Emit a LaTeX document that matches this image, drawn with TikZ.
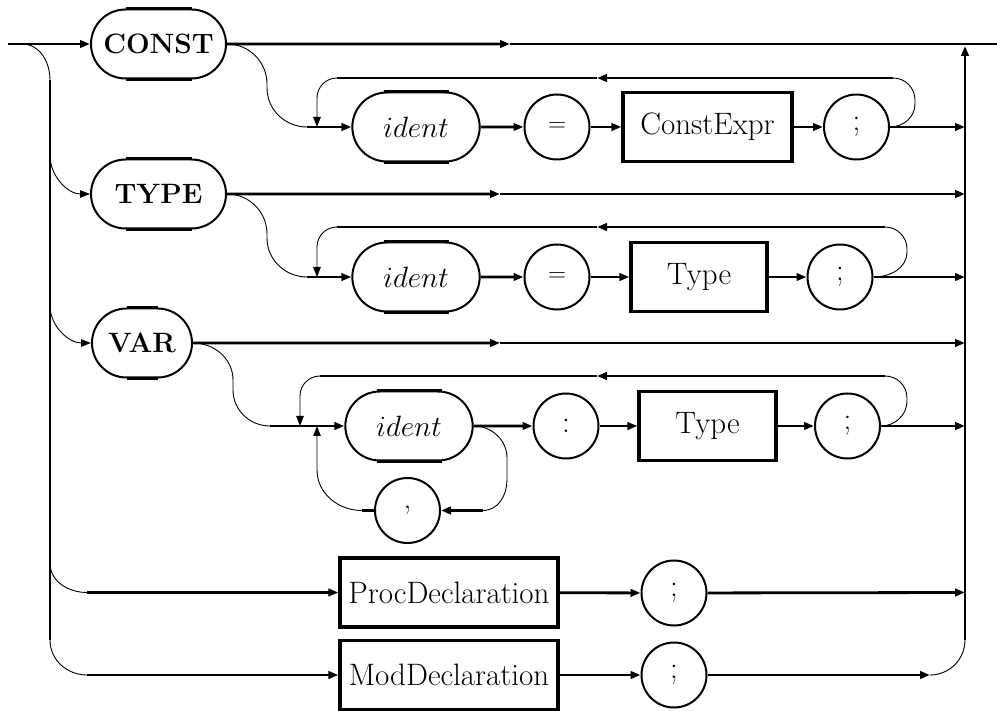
\documentclass[tikz,border=0pt]{standalone}
\usetikzlibrary{arrows.meta,shapes.misc,calc}
\newcommand{\identword}{\fontsize{24.88}{30}\selectfont\scalebox{1.18}{$ident$}}
\begin{document}
\begin{tikzpicture}[x=1pt,y=-1pt,
  mainline/.style={line width=2.8pt},
  bendline/.style={line width=0.9pt},
  tip/.style={-{Triangle[length=10pt,width=7.5pt]}},
  kw/.style={rounded rectangle, draw, line width=2pt, minimum height=69pt,
    inner xsep=0pt, font=\fontsize{28}{32}\selectfont\bfseries},
  idf/.style={rounded rectangle, draw, line width=2pt, minimum height=69pt,
    minimum width=134pt},
  sym/.style={circle, draw, line width=2pt, minimum size=65pt, inner sep=0pt,
    font=\fontsize{31}{36}\selectfont},
  nt/.style={rectangle, draw, line width=3.2pt, minimum height=69pt, inner sep=0pt,
    font=\fontsize{31}{36}\selectfont},
  flat/.style={line width=3.4pt},
]
\useasboundingbox (0,0) rectangle (997,711);

% ---- nodes ----
\node[kw, minimum width=135pt] (const) at (158.5,44) {CONST};
\node[idf] (id1) at (416,127) {\identword};
\node[sym] (eq1) at (557,127) {$=$};
\node[nt, minimum width=169pt] (cexpr) at (707.5,127) {ConstExpr};
\node[sym] (sc1) at (856.5,127) {;};

\node[kw, minimum width=135pt] (type) at (158.5,194) {TYPE};
\node[idf] (id2) at (416,277) {\identword};
\node[sym] (eq2) at (557,277) {$=$};
\node[nt, minimum width=136pt] (ty1) at (699,277) {Type};
\node[sym] (sc2) at (840,277) {;};

\node[kw, minimum width=100pt] (var) at (142,343) {VAR};
\node[idf] (id3) at (409,426) {\identword};
\node[sym] (col) at (566,426) {:};
\node[nt, minimum width=137pt] (ty2) at (707.5,426) {Type};
\node[sym] (sc3) at (847.5,426) {;};
\node[sym] (com) at (407.5,510.5) {,};

\node[nt, minimum width=218pt] (proc) at (449,592.5) {ProcDeclaration};
\node[sym] (sc4) at (674,593) {;};
\node[nt, minimum width=218pt] (mod) at (449,675) {ModDeclaration};
\node[sym] (sc5) at (674,675) {;};

% heavier straight edges of the rounded nodes
\foreach \n/\h in {const/33, type/33, var/15.5, id1/32.5, id2/32.5, id3/32.5} {
  \draw[flat] ($(\n.north)+(-\h,0)$) -- ($(\n.north)+(\h,0)$);
  \draw[flat] ($(\n.south)+(-\h,0)$) -- ($(\n.south)+(\h,0)$);
}

% ---- junction points ----
\coordinate (start) at (8,44);
\coordinate (lsplit) at (22,44);
\coordinate (endpt) at (997,44);
\coordinate (m0) at (510,44);
\coordinate (lbtop) at (50,80);
\coordinate (lt) at (50,155);
\coordinate (lv) at (50,305);
\coordinate (lp) at (50,563);
\coordinate (lbbot) at (50,640);
\coordinate (pin) at (87,592.5);
\coordinate (min) at (87,675);
\coordinate (rbtop) at (965,46);
\coordinate (rbbot) at (965,640);
\coordinate (r1) at (965,127);
\coordinate (r2) at (965,194);
\coordinate (r3) at (965,277);
\coordinate (r4) at (965,343);
\coordinate (r5) at (965,426);
\coordinate (r6) at (965,592.5);
\coordinate (mend) at (930,675);
\coordinate (m2) at (500,194);
\coordinate (m4) at (500,343);

\coordinate (in1) at (307,127);
\coordinate (j1) at (317,127);
\coordinate (lr1) at (893,78);
\coordinate (lm1) at (597,78);
\coordinate (ll1) at (337,78);

\coordinate (in2) at (307,277);
\coordinate (j2) at (317,277);
\coordinate (lr2) at (885,227);
\coordinate (lm2) at (597,227);
\coordinate (ll2) at (337,227);

\coordinate (in3) at (270,426);
\coordinate (j3) at (300,426);
\coordinate (j4) at (317,426);
\coordinate (lr3) at (885,376);
\coordinate (lm3) at (597,376);
\coordinate (ll3) at (320,376);
\coordinate (cr) at (483,510.5);
\coordinate (cl) at (362,510.5);

% ---- buses and the top line ----
\draw[mainline,tip] (start) -- (const);
\draw[mainline,tip] (const) -- (m0);
\draw[mainline] (m0) -- (endpt);
\draw[bendline] (lsplit) to[out=0,in=90] (lbtop);
\draw[mainline] (lbtop) -- (lbbot);
\draw[mainline,tip] (rbbot) -- (rbtop);

% ---- CONST declarations ----
\draw[bendline] (const.east) to[out=0,in=90] (267,84) -- (267,88) to[out=-90,in=180] (in1);
\draw[mainline,tip] (in1) -- (id1);
\draw[mainline,tip] (id1) -- (eq1);
\draw[mainline,tip] (eq1) -- (cexpr);
\draw[mainline,tip] (cexpr) -- (sc1);
\draw[mainline,tip] (sc1) -- (r1);
\draw[bendline] (sc1.east) to[out=0,in=-90] (915,104) -- (915,100) to[out=90,in=0] (lr1);
\draw[mainline,tip] (lr1) -- (lm1);
\draw[mainline] (lm1) -- (ll1);
\draw[bendline,tip] (ll1) to[out=180,in=90] (317,98) -- (j1);

% ---- TYPE declarations ----
\draw[bendline,tip] (lt) to[out=-90,in=180] (type.west);
\draw[mainline,tip] (type) -- (m2);
\draw[mainline,tip] (m2) -- (r2);
\draw[bendline] (type.east) to[out=0,in=90] (267,234) -- (267,238) to[out=-90,in=180] (in2);
\draw[mainline,tip] (in2) -- (id2);
\draw[mainline,tip] (id2) -- (eq2);
\draw[mainline,tip] (eq2) -- (ty1);
\draw[mainline,tip] (ty1) -- (sc2);
\draw[mainline,tip] (sc2) -- (r3);
\draw[bendline] (sc2.east) to[out=0,in=-90] (907,252) -- (907,249) to[out=90,in=0] (lr2);
\draw[mainline,tip] (lr2) -- (lm2);
\draw[mainline] (lm2) -- (ll2);
\draw[bendline,tip] (ll2) to[out=180,in=90] (317,247) -- (j2);

% ---- VAR declarations ----
\draw[bendline,tip] (lv) to[out=-90,in=180] (var.west);
\draw[mainline,tip] (var) -- (m4);
\draw[mainline,tip] (m4) -- (r4);
\draw[bendline] (var.east) to[out=0,in=90] (233,380) -- (233,390) to[out=-90,in=180] (in3);
\draw[mainline,tip] (in3) -- (id3);
\draw[mainline,tip] (id3) -- (col);
\draw[mainline,tip] (col) -- (ty2);
\draw[mainline,tip] (ty2) -- (sc3);
\draw[mainline,tip] (sc3) -- (r5);
\draw[bendline] (sc3.east) to[out=0,in=-90] (907,401) -- (907,398) to[out=90,in=0] (lr3);
\draw[mainline,tip] (lr3) -- (lm3);
\draw[mainline] (lm3) -- (ll3);
\draw[bendline,tip] (ll3) to[out=180,in=90] (300,396) -- (j3);
% identifier list separated by commas
\draw[bendline] (id3.east) to[out=0,in=90] (507,458) -- (507,480) to[out=-90,in=0] (cr);
\draw[mainline,tip] (cr) -- (com);
\draw[mainline] (com) -- (cl);
\draw[bendline,tip] (cl) to[out=180,in=-90] (317,470) -- (j4);

% ---- procedure and module declarations ----
\draw[bendline] (lp) to[out=-90,in=180] (pin);
\draw[mainline,tip] (pin) -- (proc);
\draw[mainline,tip] (proc) -- (sc4);
\draw[mainline,tip] (sc4) -- (r6);
\draw[bendline] (lbbot) to[out=-90,in=180] (min);
\draw[mainline,tip] (min) -- (mod);
\draw[mainline,tip] (mod) -- (sc5);
\draw[mainline,tip] (sc5) -- (mend);
\draw[bendline] (mend) to[out=0,in=-90] (rbbot);
\end{tikzpicture}
\end{document}
